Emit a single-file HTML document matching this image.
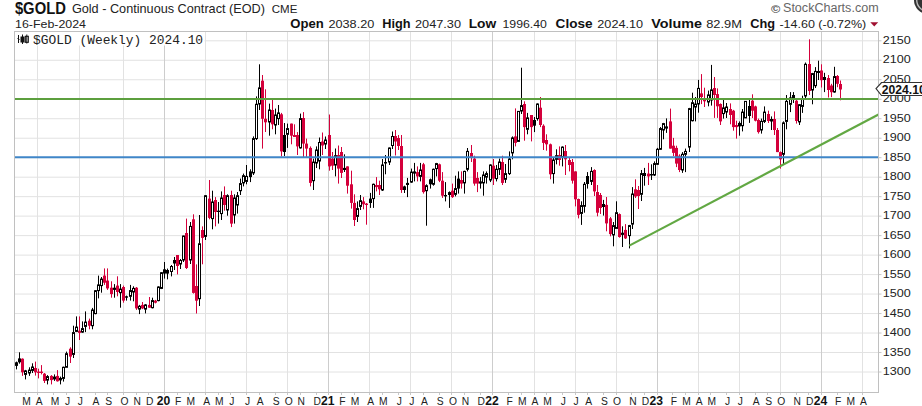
<!DOCTYPE html>
<html><head><meta charset="utf-8"><style>
html,body{margin:0;padding:0;background:#fff;width:922px;height:406px;overflow:hidden;position:relative}
svg{position:absolute;left:0;top:0}
text{font-family:"Liberation Sans",sans-serif;fill:#111}
.ax{font-size:11.6px;fill:#222}
.mo{font-size:11.7px;fill:#222;text-anchor:middle}
.yr{font-size:13.5px;font-weight:bold;text-anchor:middle}
.h1{font-size:16px;font-weight:bold}
.h2{font-size:12.9px;fill:#222}
.h3{font-size:10.3px;fill:#222}
.d1{font-size:11.7px;fill:#222}
.b{font-size:12.6px;font-weight:bold}
.n{font-size:10.8px;fill:#222}
.sc{font-size:12px;fill:#666}
.sc2{font-size:10.5px;fill:#555;font-weight:bold}
.mono{font-family:"Liberation Mono",monospace;font-size:12.6px;fill:#222}
</style></head><body>
<svg width="922" height="406" viewBox="0 0 922 406">
<g stroke="#e2e2e2" stroke-width="1"><line x1="14.5" y1="372.0" x2="878.5" y2="372.0"/><line x1="14.5" y1="352.52" x2="878.5" y2="352.52"/><line x1="14.5" y1="333.04" x2="878.5" y2="333.04"/><line x1="14.5" y1="313.56" x2="878.5" y2="313.56"/><line x1="14.5" y1="294.07" x2="878.5" y2="294.07"/><line x1="14.5" y1="274.59" x2="878.5" y2="274.59"/><line x1="14.5" y1="255.11" x2="878.5" y2="255.11"/><line x1="14.5" y1="235.62" x2="878.5" y2="235.62"/><line x1="14.5" y1="216.14" x2="878.5" y2="216.14"/><line x1="14.5" y1="196.66" x2="878.5" y2="196.66"/><line x1="14.5" y1="177.18" x2="878.5" y2="177.18"/><line x1="14.5" y1="157.69" x2="878.5" y2="157.69"/><line x1="14.5" y1="138.21" x2="878.5" y2="138.21"/><line x1="14.5" y1="118.73" x2="878.5" y2="118.73"/><line x1="14.5" y1="99.25" x2="878.5" y2="99.25"/><line x1="14.5" y1="79.76" x2="878.5" y2="79.76"/><line x1="14.5" y1="60.28" x2="878.5" y2="60.28"/><line x1="14.5" y1="40.8" x2="878.5" y2="40.8"/><line x1="37.5" y1="31.5" x2="37.5" y2="392.5"/><line x1="79.5" y1="31.5" x2="79.5" y2="392.5"/><line x1="123.5" y1="31.5" x2="123.5" y2="392.5"/><line x1="205.5" y1="31.5" x2="205.5" y2="392.5"/><line x1="246.5" y1="31.5" x2="246.5" y2="392.5"/><line x1="287.5" y1="31.5" x2="287.5" y2="392.5"/><line x1="369.5" y1="31.5" x2="369.5" y2="392.5"/><line x1="410.5" y1="31.5" x2="410.5" y2="392.5"/><line x1="451.5" y1="31.5" x2="451.5" y2="392.5"/><line x1="534.5" y1="31.5" x2="534.5" y2="392.5"/><line x1="575.5" y1="31.5" x2="575.5" y2="392.5"/><line x1="616.5" y1="31.5" x2="616.5" y2="392.5"/><line x1="698.5" y1="31.5" x2="698.5" y2="392.5"/><line x1="739.5" y1="31.5" x2="739.5" y2="392.5"/><line x1="780.5" y1="31.5" x2="780.5" y2="392.5"/><line x1="862.5" y1="31.5" x2="862.5" y2="392.5"/></g><g stroke="#cdcdcd" stroke-width="1"><line x1="164.5" y1="31.5" x2="164.5" y2="392.5"/><line x1="328.5" y1="31.5" x2="328.5" y2="392.5"/><line x1="492.5" y1="31.5" x2="492.5" y2="392.5"/><line x1="657.5" y1="31.5" x2="657.5" y2="392.5"/><line x1="821.5" y1="31.5" x2="821.5" y2="392.5"/></g><g stroke="#c8c8c8" stroke-width="1"><line x1="25.5" y1="392.5" x2="25.5" y2="395.0"/><line x1="37.5" y1="392.5" x2="37.5" y2="395.0"/><line x1="53.5" y1="392.5" x2="53.5" y2="395.0"/><line x1="66.5" y1="392.5" x2="66.5" y2="395.0"/><line x1="79.5" y1="392.5" x2="79.5" y2="395.0"/><line x1="95.5" y1="392.5" x2="95.5" y2="395.0"/><line x1="107.5" y1="392.5" x2="107.5" y2="395.0"/><line x1="123.5" y1="392.5" x2="123.5" y2="395.0"/><line x1="136.5" y1="392.5" x2="136.5" y2="395.0"/><line x1="148.5" y1="392.5" x2="148.5" y2="395.0"/><line x1="164.5" y1="392.5" x2="164.5" y2="395.0"/><line x1="177.5" y1="392.5" x2="177.5" y2="395.0"/><line x1="189.5" y1="392.5" x2="189.5" y2="395.0"/><line x1="205.5" y1="392.5" x2="205.5" y2="395.0"/><line x1="218.5" y1="392.5" x2="218.5" y2="395.0"/><line x1="230.5" y1="392.5" x2="230.5" y2="395.0"/><line x1="246.5" y1="392.5" x2="246.5" y2="395.0"/><line x1="259.5" y1="392.5" x2="259.5" y2="395.0"/><line x1="275.5" y1="392.5" x2="275.5" y2="395.0"/><line x1="287.5" y1="392.5" x2="287.5" y2="395.0"/><line x1="300.5" y1="392.5" x2="300.5" y2="395.0"/><line x1="316.5" y1="392.5" x2="316.5" y2="395.0"/><line x1="328.5" y1="392.5" x2="328.5" y2="395.0"/><line x1="341.5" y1="392.5" x2="341.5" y2="395.0"/><line x1="354.5" y1="392.5" x2="354.5" y2="395.0"/><line x1="369.5" y1="392.5" x2="369.5" y2="395.0"/><line x1="382.5" y1="392.5" x2="382.5" y2="395.0"/><line x1="398.5" y1="392.5" x2="398.5" y2="395.0"/><line x1="410.5" y1="392.5" x2="410.5" y2="395.0"/><line x1="423.5" y1="392.5" x2="423.5" y2="395.0"/><line x1="439.5" y1="392.5" x2="439.5" y2="395.0"/><line x1="451.5" y1="392.5" x2="451.5" y2="395.0"/><line x1="464.5" y1="392.5" x2="464.5" y2="395.0"/><line x1="480.5" y1="392.5" x2="480.5" y2="395.0"/><line x1="492.5" y1="392.5" x2="492.5" y2="395.0"/><line x1="508.5" y1="392.5" x2="508.5" y2="395.0"/><line x1="521.5" y1="392.5" x2="521.5" y2="395.0"/><line x1="534.5" y1="392.5" x2="534.5" y2="395.0"/><line x1="546.5" y1="392.5" x2="546.5" y2="395.0"/><line x1="562.5" y1="392.5" x2="562.5" y2="395.0"/><line x1="575.5" y1="392.5" x2="575.5" y2="395.0"/><line x1="587.5" y1="392.5" x2="587.5" y2="395.0"/><line x1="603.5" y1="392.5" x2="603.5" y2="395.0"/><line x1="616.5" y1="392.5" x2="616.5" y2="395.0"/><line x1="631.5" y1="392.5" x2="631.5" y2="395.0"/><line x1="644.5" y1="392.5" x2="644.5" y2="395.0"/><line x1="657.5" y1="392.5" x2="657.5" y2="395.0"/><line x1="672.5" y1="392.5" x2="672.5" y2="395.0"/><line x1="685.5" y1="392.5" x2="685.5" y2="395.0"/><line x1="698.5" y1="392.5" x2="698.5" y2="395.0"/><line x1="710.5" y1="392.5" x2="710.5" y2="395.0"/><line x1="726.5" y1="392.5" x2="726.5" y2="395.0"/><line x1="739.5" y1="392.5" x2="739.5" y2="395.0"/><line x1="755.5" y1="392.5" x2="755.5" y2="395.0"/><line x1="767.5" y1="392.5" x2="767.5" y2="395.0"/><line x1="780.5" y1="392.5" x2="780.5" y2="395.0"/><line x1="796.5" y1="392.5" x2="796.5" y2="395.0"/><line x1="808.5" y1="392.5" x2="808.5" y2="395.0"/><line x1="821.5" y1="392.5" x2="821.5" y2="395.0"/><line x1="837.5" y1="392.5" x2="837.5" y2="395.0"/><line x1="849.5" y1="392.5" x2="849.5" y2="395.0"/><line x1="862.5" y1="392.5" x2="862.5" y2="395.0"/></g><g stroke="#c8c8c8" stroke-width="1"><line x1="878.5" y1="372.0" x2="881.5" y2="372.0"/><line x1="878.5" y1="352.52" x2="881.5" y2="352.52"/><line x1="878.5" y1="333.04" x2="881.5" y2="333.04"/><line x1="878.5" y1="313.56" x2="881.5" y2="313.56"/><line x1="878.5" y1="294.07" x2="881.5" y2="294.07"/><line x1="878.5" y1="274.59" x2="881.5" y2="274.59"/><line x1="878.5" y1="255.11" x2="881.5" y2="255.11"/><line x1="878.5" y1="235.62" x2="881.5" y2="235.62"/><line x1="878.5" y1="216.14" x2="881.5" y2="216.14"/><line x1="878.5" y1="196.66" x2="881.5" y2="196.66"/><line x1="878.5" y1="177.18" x2="881.5" y2="177.18"/><line x1="878.5" y1="157.69" x2="881.5" y2="157.69"/><line x1="878.5" y1="138.21" x2="881.5" y2="138.21"/><line x1="878.5" y1="118.73" x2="881.5" y2="118.73"/><line x1="878.5" y1="99.25" x2="881.5" y2="99.25"/><line x1="878.5" y1="79.76" x2="881.5" y2="79.76"/><line x1="878.5" y1="60.28" x2="881.5" y2="60.28"/><line x1="878.5" y1="40.8" x2="881.5" y2="40.8"/></g><g stroke-width="1"><line x1="16.5" y1="361.6" x2="16.5" y2="369.4" stroke="#000"/><rect x="15.0" y="362.3" width="3" height="3.6" fill="#000"/><line x1="19.5" y1="352.3" x2="19.5" y2="363.7" stroke="#000"/><rect x="18.0" y="358.4" width="3" height="3.9" fill="#000"/><line x1="22.5" y1="358.4" x2="22.5" y2="375.9" stroke="#d4003b"/><rect x="21.0" y="358.7" width="3" height="13.6" fill="#d4003b"/><line x1="25.5" y1="369.9" x2="25.5" y2="379.4" stroke="#000"/><rect x="24.5" y="370.9" width="2" height="3.5" fill="#fff" stroke="#000" stroke-width="1"/><line x1="29.5" y1="367.3" x2="29.5" y2="375.9" stroke="#000"/><rect x="28.5" y="370.1" width="2" height="2.9" fill="#fff" stroke="#000" stroke-width="1"/><line x1="32.5" y1="363.3" x2="32.5" y2="373.0" stroke="#000"/><rect x="31.5" y="367.0" width="2" height="3.4" fill="#fff" stroke="#000" stroke-width="1"/><line x1="35.5" y1="361.6" x2="35.5" y2="375.6" stroke="#d4003b"/><rect x="34.0" y="368.0" width="3" height="4.3" fill="#d4003b"/><line x1="38.5" y1="368.7" x2="38.5" y2="378.4" stroke="#d4003b"/><rect x="37.0" y="371.6" width="3" height="1.4" fill="#d4003b"/><line x1="41.5" y1="365.1" x2="41.5" y2="374.4" stroke="#d4003b"/><rect x="40.0" y="371.6" width="3" height="1.4" fill="#d4003b"/><line x1="44.5" y1="373.0" x2="44.5" y2="383.0" stroke="#d4003b"/><rect x="43.0" y="373.7" width="3" height="7.2" fill="#d4003b"/><line x1="47.5" y1="375.1" x2="47.5" y2="384.4" stroke="#000"/><rect x="46.5" y="376.6" width="2" height="3.5" fill="#fff" stroke="#000" stroke-width="1"/><line x1="51.5" y1="375.1" x2="51.5" y2="384.4" stroke="#d4003b"/><rect x="50.0" y="375.9" width="3" height="4.2" fill="#d4003b"/><line x1="54.5" y1="374.4" x2="54.5" y2="380.9" stroke="#000"/><rect x="53.0" y="376.6" width="3" height="2.8" fill="#000"/><line x1="57.5" y1="370.1" x2="57.5" y2="381.6" stroke="#d4003b"/><rect x="56.0" y="375.9" width="3" height="5.4" fill="#d4003b"/><line x1="60.5" y1="376.6" x2="60.5" y2="384.4" stroke="#000"/><rect x="59.5" y="378.4" width="2" height="1.5" fill="#fff" stroke="#000" stroke-width="1"/><line x1="63.5" y1="366.6" x2="63.5" y2="381.6" stroke="#000"/><rect x="62.5" y="367.3" width="2" height="11.1" fill="#fff" stroke="#000" stroke-width="1"/><line x1="66.5" y1="351.6" x2="66.5" y2="367.3" stroke="#000"/><rect x="65.5" y="353.7" width="2" height="13.6" fill="#fff" stroke="#000" stroke-width="1"/><line x1="70.5" y1="347.3" x2="70.5" y2="363.0" stroke="#d4003b"/><rect x="69.0" y="348.7" width="3" height="7.9" fill="#d4003b"/><line x1="73.5" y1="325.7" x2="73.5" y2="358.0" stroke="#000"/><rect x="72.5" y="332.6" width="2" height="21.8" fill="#fff" stroke="#000" stroke-width="1"/><line x1="76.5" y1="316.4" x2="76.5" y2="332.1" stroke="#000"/><rect x="75.5" y="327.1" width="2" height="4.3" fill="#fff" stroke="#000" stroke-width="1"/><line x1="79.5" y1="316.4" x2="79.5" y2="340.0" stroke="#d4003b"/><rect x="78.0" y="330.7" width="3" height="2.2" fill="#d4003b"/><line x1="82.5" y1="321.4" x2="82.5" y2="332.9" stroke="#000"/><rect x="81.5" y="328.6" width="2" height="3.5" fill="#fff" stroke="#000" stroke-width="1"/><line x1="85.5" y1="311.4" x2="85.5" y2="332.1" stroke="#000"/><rect x="84.5" y="322.1" width="2" height="4.3" fill="#fff" stroke="#000" stroke-width="1"/><line x1="89.5" y1="318.6" x2="89.5" y2="329.3" stroke="#d4003b"/><rect x="88.0" y="320.7" width="3" height="5.0" fill="#d4003b"/><line x1="92.5" y1="307.9" x2="92.5" y2="329.3" stroke="#000"/><rect x="91.5" y="310.0" width="2" height="15.7" fill="#fff" stroke="#000" stroke-width="1"/><line x1="95.5" y1="290.0" x2="95.5" y2="314.3" stroke="#000"/><rect x="94.5" y="290.7" width="2" height="22.9" fill="#fff" stroke="#000" stroke-width="1"/><line x1="98.5" y1="275.6" x2="98.5" y2="298.4" stroke="#000"/><rect x="97.5" y="284.9" width="2" height="5.7" fill="#fff" stroke="#000" stroke-width="1"/><line x1="101.5" y1="277.0" x2="101.5" y2="292.7" stroke="#000"/><rect x="100.5" y="279.1" width="2" height="6.5" fill="#fff" stroke="#000" stroke-width="1"/><line x1="104.5" y1="268.4" x2="104.5" y2="284.9" stroke="#d4003b"/><rect x="103.0" y="275.6" width="3" height="7.1" fill="#d4003b"/><line x1="107.5" y1="268.4" x2="107.5" y2="289.9" stroke="#d4003b"/><rect x="106.0" y="280.6" width="3" height="7.8" fill="#d4003b"/><line x1="111.5" y1="281.3" x2="111.5" y2="297.7" stroke="#d4003b"/><rect x="110.0" y="287.7" width="3" height="6.4" fill="#d4003b"/><line x1="114.5" y1="284.1" x2="114.5" y2="297.7" stroke="#000"/><rect x="113.0" y="287.7" width="3" height="2.2" fill="#000"/><line x1="117.5" y1="276.3" x2="117.5" y2="296.3" stroke="#d4003b"/><rect x="116.0" y="285.6" width="3" height="6.4" fill="#d4003b"/><line x1="120.5" y1="284.1" x2="120.5" y2="307.7" stroke="#000"/><rect x="119.5" y="289.1" width="2" height="3.6" fill="#fff" stroke="#000" stroke-width="1"/><line x1="123.5" y1="285.6" x2="123.5" y2="302.7" stroke="#d4003b"/><rect x="122.0" y="287.0" width="3" height="13.6" fill="#d4003b"/><line x1="126.5" y1="295.6" x2="126.5" y2="300.6" stroke="#000"/><rect x="125.0" y="296.3" width="3" height="1.4" fill="#000"/><line x1="130.5" y1="284.9" x2="130.5" y2="300.6" stroke="#000"/><rect x="129.5" y="290.6" width="2" height="5.7" fill="#fff" stroke="#000" stroke-width="1"/><line x1="133.5" y1="286.3" x2="133.5" y2="301.3" stroke="#000"/><rect x="132.5" y="288.4" width="2" height="3.6" fill="#fff" stroke="#000" stroke-width="1"/><line x1="136.5" y1="287.0" x2="136.5" y2="309.9" stroke="#d4003b"/><rect x="135.0" y="287.7" width="3" height="20.7" fill="#d4003b"/><line x1="139.5" y1="304.9" x2="139.5" y2="314.1" stroke="#000"/><rect x="138.5" y="306.3" width="2" height="2.8" fill="#fff" stroke="#000" stroke-width="1"/><line x1="142.5" y1="302.0" x2="142.5" y2="309.1" stroke="#d4003b"/><rect x="141.0" y="304.9" width="3" height="3.5" fill="#d4003b"/><line x1="145.5" y1="304.1" x2="145.5" y2="313.4" stroke="#000"/><rect x="144.5" y="304.9" width="2" height="4.2" fill="#fff" stroke="#000" stroke-width="1"/><line x1="149.5" y1="297.0" x2="149.5" y2="307.7" stroke="#d4003b"/><rect x="148.0" y="304.9" width="3" height="2.8" fill="#d4003b"/><line x1="152.5" y1="297.7" x2="152.5" y2="308.4" stroke="#000"/><rect x="151.5" y="300.6" width="2" height="7.1" fill="#fff" stroke="#000" stroke-width="1"/><line x1="155.5" y1="299.9" x2="155.5" y2="303.4" stroke="#d4003b"/><rect x="154.0" y="300.6" width="3" height="2.1" fill="#d4003b"/><line x1="158.5" y1="286.3" x2="158.5" y2="301.3" stroke="#000"/><rect x="157.5" y="287.0" width="2" height="13.6" fill="#fff" stroke="#000" stroke-width="1"/><line x1="161.5" y1="272.0" x2="161.5" y2="289.1" stroke="#000"/><rect x="160.5" y="272.7" width="2" height="15.7" fill="#fff" stroke="#000" stroke-width="1"/><line x1="164.5" y1="262.0" x2="164.5" y2="278.6" stroke="#000"/><rect x="163.0" y="269.3" width="3" height="4.3" fill="#000"/><line x1="167.5" y1="268.6" x2="167.5" y2="279.3" stroke="#000"/><rect x="166.0" y="270.0" width="3" height="3.6" fill="#000"/><line x1="171.5" y1="265.0" x2="171.5" y2="276.4" stroke="#000"/><rect x="170.5" y="266.5" width="2" height="5.0" fill="#fff" stroke="#000" stroke-width="1"/><line x1="174.5" y1="257.0" x2="174.5" y2="270.0" stroke="#000"/><rect x="173.0" y="260.0" width="3" height="3.5" fill="#000"/><line x1="177.5" y1="255.0" x2="177.5" y2="274.4" stroke="#d4003b"/><rect x="176.0" y="255.0" width="3" height="11.0" fill="#d4003b"/><line x1="180.5" y1="259.0" x2="180.5" y2="269.0" stroke="#000"/><rect x="179.5" y="260.5" width="2" height="3.5" fill="#fff" stroke="#000" stroke-width="1"/><line x1="183.5" y1="235.7" x2="183.5" y2="262.0" stroke="#000"/><rect x="182.5" y="236.0" width="2" height="24.0" fill="#fff" stroke="#000" stroke-width="1"/><line x1="186.5" y1="218.6" x2="186.5" y2="269.0" stroke="#d4003b"/><rect x="185.0" y="233.0" width="3" height="35.0" fill="#d4003b"/><line x1="190.5" y1="222.0" x2="190.5" y2="264.0" stroke="#000"/><rect x="189.5" y="226.4" width="2" height="33.6" fill="#fff" stroke="#000" stroke-width="1"/><line x1="193.5" y1="214.3" x2="193.5" y2="293.6" stroke="#d4003b"/><rect x="192.0" y="219.3" width="3" height="73.6" fill="#d4003b"/><line x1="196.5" y1="264.4" x2="196.5" y2="313.5" stroke="#d4003b"/><rect x="195.0" y="286.0" width="3" height="14.7" fill="#d4003b"/><line x1="199.5" y1="215.0" x2="199.5" y2="306.0" stroke="#000"/><rect x="198.5" y="243.8" width="2" height="54.9" fill="#fff" stroke="#000" stroke-width="1"/><line x1="202.5" y1="226.4" x2="202.5" y2="264.3" stroke="#d4003b"/><rect x="201.0" y="230.0" width="3" height="7.9" fill="#d4003b"/><line x1="205.5" y1="195.0" x2="205.5" y2="240.0" stroke="#000"/><rect x="204.5" y="195.7" width="2" height="40.7" fill="#fff" stroke="#000" stroke-width="1"/><line x1="209.5" y1="180.0" x2="209.5" y2="219.3" stroke="#d4003b"/><rect x="208.0" y="198.6" width="3" height="19.3" fill="#d4003b"/><line x1="212.5" y1="190.7" x2="212.5" y2="229.3" stroke="#000"/><rect x="211.5" y="202.0" width="2" height="16.6" fill="#fff" stroke="#000" stroke-width="1"/><line x1="215.5" y1="197.1" x2="215.5" y2="226.4" stroke="#d4003b"/><rect x="214.0" y="200.0" width="3" height="12.0" fill="#d4003b"/><line x1="218.5" y1="202.0" x2="218.5" y2="223.6" stroke="#000"/><rect x="217.0" y="210.7" width="3" height="1.3" fill="#000"/><line x1="221.5" y1="191.4" x2="221.5" y2="220.0" stroke="#000"/><rect x="220.5" y="198.0" width="2" height="15.6" fill="#fff" stroke="#000" stroke-width="1"/><line x1="224.5" y1="186.4" x2="224.5" y2="210.7" stroke="#d4003b"/><rect x="223.0" y="195.0" width="3" height="10.0" fill="#d4003b"/><line x1="227.5" y1="194.3" x2="227.5" y2="215.7" stroke="#000"/><rect x="226.5" y="195.7" width="2" height="14.3" fill="#fff" stroke="#000" stroke-width="1"/><line x1="231.5" y1="190.7" x2="231.5" y2="227.1" stroke="#d4003b"/><rect x="230.0" y="195.0" width="3" height="28.6" fill="#d4003b"/><line x1="234.5" y1="194.3" x2="234.5" y2="223.6" stroke="#000"/><rect x="233.5" y="198.0" width="2" height="17.0" fill="#fff" stroke="#000" stroke-width="1"/><line x1="237.5" y1="192.0" x2="237.5" y2="213.6" stroke="#000"/><rect x="236.5" y="195.7" width="2" height="9.3" fill="#fff" stroke="#000" stroke-width="1"/><line x1="240.5" y1="178.6" x2="240.5" y2="195.0" stroke="#000"/><rect x="239.5" y="183.6" width="2" height="7.1" fill="#fff" stroke="#000" stroke-width="1"/><line x1="243.5" y1="173.6" x2="243.5" y2="186.4" stroke="#000"/><rect x="242.5" y="175.7" width="2" height="7.2" fill="#fff" stroke="#000" stroke-width="1"/><line x1="246.5" y1="165.0" x2="246.5" y2="184.3" stroke="#000"/><rect x="245.5" y="176.4" width="2" height="5.0" fill="#fff" stroke="#000" stroke-width="1"/><line x1="250.5" y1="169.3" x2="250.5" y2="182.1" stroke="#000"/><rect x="249.0" y="171.4" width="3" height="5.7" fill="#000"/><line x1="253.5" y1="136.4" x2="253.5" y2="175.0" stroke="#000"/><rect x="252.5" y="138.6" width="2" height="34.3" fill="#fff" stroke="#000" stroke-width="1"/><line x1="256.5" y1="96.4" x2="256.5" y2="140.0" stroke="#000"/><rect x="255.5" y="104.3" width="2" height="34.3" fill="#fff" stroke="#000" stroke-width="1"/><line x1="259.5" y1="64.3" x2="259.5" y2="110.0" stroke="#000"/><rect x="258.5" y="87.9" width="2" height="16.1" fill="#fff" stroke="#000" stroke-width="1"/><line x1="262.5" y1="75.0" x2="262.5" y2="148.6" stroke="#d4003b"/><rect x="261.0" y="80.7" width="3" height="38.1" fill="#d4003b"/><line x1="265.5" y1="89.3" x2="265.5" y2="132.0" stroke="#d4003b"/><rect x="264.0" y="118.8" width="3" height="3.5" fill="#d4003b"/><line x1="269.5" y1="103.6" x2="269.5" y2="135.7" stroke="#000"/><rect x="268.5" y="110.0" width="2" height="12.0" fill="#fff" stroke="#000" stroke-width="1"/><line x1="272.5" y1="100.0" x2="272.5" y2="129.3" stroke="#d4003b"/><rect x="271.0" y="110.0" width="3" height="14.3" fill="#d4003b"/><line x1="275.5" y1="108.6" x2="275.5" y2="134.3" stroke="#000"/><rect x="274.5" y="115.0" width="2" height="10.0" fill="#fff" stroke="#000" stroke-width="1"/><line x1="278.5" y1="105.0" x2="278.5" y2="125.0" stroke="#000"/><rect x="277.5" y="112.9" width="2" height="5.7" fill="#fff" stroke="#000" stroke-width="1"/><line x1="281.5" y1="112.9" x2="281.5" y2="156.4" stroke="#d4003b"/><rect x="280.0" y="114.3" width="3" height="37.1" fill="#d4003b"/><line x1="284.5" y1="123.0" x2="284.5" y2="156.0" stroke="#000"/><rect x="283.0" y="135.0" width="3" height="17.0" fill="#000"/><line x1="287.5" y1="123.6" x2="287.5" y2="147.9" stroke="#000"/><rect x="286.5" y="128.6" width="2" height="5.7" fill="#fff" stroke="#000" stroke-width="1"/><line x1="291.5" y1="123.6" x2="291.5" y2="144.3" stroke="#d4003b"/><rect x="290.0" y="123.6" width="3" height="12.1" fill="#d4003b"/><line x1="294.5" y1="124.3" x2="294.5" y2="137.0" stroke="#d4003b"/><rect x="293.0" y="135.0" width="3" height="2.0" fill="#d4003b"/><line x1="297.5" y1="132.1" x2="297.5" y2="155.0" stroke="#d4003b"/><rect x="296.0" y="135.0" width="3" height="11.4" fill="#d4003b"/><line x1="300.5" y1="113.6" x2="300.5" y2="148.6" stroke="#000"/><rect x="299.5" y="118.6" width="2" height="29.3" fill="#fff" stroke="#000" stroke-width="1"/><line x1="303.5" y1="112.1" x2="303.5" y2="157.9" stroke="#d4003b"/><rect x="302.0" y="118.0" width="3" height="25.6" fill="#d4003b"/><line x1="306.5" y1="138.6" x2="306.5" y2="157.9" stroke="#d4003b"/><rect x="305.0" y="143.6" width="3" height="5.0" fill="#d4003b"/><line x1="310.5" y1="146.4" x2="310.5" y2="186.4" stroke="#d4003b"/><rect x="309.0" y="147.9" width="3" height="35.0" fill="#d4003b"/><line x1="313.5" y1="158.6" x2="313.5" y2="190.0" stroke="#000"/><rect x="312.5" y="162.1" width="2" height="18.6" fill="#fff" stroke="#000" stroke-width="1"/><line x1="316.5" y1="146.4" x2="316.5" y2="168.0" stroke="#000"/><rect x="315.5" y="150.0" width="2" height="13.0" fill="#fff" stroke="#000" stroke-width="1"/><line x1="319.5" y1="137.5" x2="319.5" y2="169.3" stroke="#000"/><rect x="318.5" y="142.5" width="2" height="18.5" fill="#fff" stroke="#000" stroke-width="1"/><line x1="322.5" y1="132.5" x2="322.5" y2="155.0" stroke="#d4003b"/><rect x="321.0" y="141.5" width="3" height="4.0" fill="#d4003b"/><line x1="325.5" y1="136.5" x2="325.5" y2="149.0" stroke="#000"/><rect x="324.5" y="140.0" width="2" height="4.0" fill="#fff" stroke="#000" stroke-width="1"/><line x1="329.5" y1="114.5" x2="329.5" y2="170.7" stroke="#d4003b"/><rect x="328.0" y="135.0" width="3" height="31.4" fill="#d4003b"/><line x1="332.5" y1="152.0" x2="332.5" y2="170.0" stroke="#d4003b"/><rect x="331.0" y="158.6" width="3" height="7.1" fill="#d4003b"/><line x1="335.5" y1="148.5" x2="335.5" y2="176.4" stroke="#000"/><rect x="334.5" y="155.7" width="2" height="9.3" fill="#fff" stroke="#000" stroke-width="1"/><line x1="338.5" y1="145.5" x2="338.5" y2="183.6" stroke="#d4003b"/><rect x="337.0" y="155.0" width="3" height="13.6" fill="#d4003b"/><line x1="341.5" y1="147.0" x2="341.5" y2="178.0" stroke="#d4003b"/><rect x="340.0" y="152.0" width="3" height="20.9" fill="#d4003b"/><line x1="344.5" y1="154.3" x2="344.5" y2="172.0" stroke="#000"/><rect x="343.0" y="167.9" width="3" height="2.1" fill="#000"/><line x1="347.5" y1="166.4" x2="347.5" y2="193.6" stroke="#d4003b"/><rect x="346.0" y="166.4" width="3" height="19.3" fill="#d4003b"/><line x1="351.5" y1="170.7" x2="351.5" y2="208.6" stroke="#d4003b"/><rect x="350.0" y="184.3" width="3" height="18.6" fill="#d4003b"/><line x1="354.5" y1="194.3" x2="354.5" y2="226.0" stroke="#d4003b"/><rect x="353.0" y="202.9" width="3" height="17.1" fill="#d4003b"/><line x1="357.5" y1="201.4" x2="357.5" y2="222.0" stroke="#000"/><rect x="356.5" y="208.6" width="2" height="7.8" fill="#fff" stroke="#000" stroke-width="1"/><line x1="360.5" y1="195.0" x2="360.5" y2="210.0" stroke="#000"/><rect x="359.5" y="200.7" width="2" height="5.7" fill="#fff" stroke="#000" stroke-width="1"/><line x1="363.5" y1="197.1" x2="363.5" y2="209.3" stroke="#d4003b"/><rect x="362.0" y="201.4" width="3" height="2.9" fill="#d4003b"/><line x1="366.5" y1="203.0" x2="366.5" y2="224.7" stroke="#d4003b"/><rect x="365.0" y="203.6" width="3" height="1.4" fill="#d4003b"/><line x1="370.5" y1="192.9" x2="370.5" y2="207.9" stroke="#000"/><rect x="369.0" y="198.6" width="3" height="4.4" fill="#000"/><line x1="373.5" y1="183.6" x2="373.5" y2="207.9" stroke="#000"/><rect x="372.5" y="184.3" width="2" height="14.3" fill="#fff" stroke="#000" stroke-width="1"/><line x1="376.5" y1="177.1" x2="376.5" y2="191.4" stroke="#d4003b"/><rect x="375.0" y="185.0" width="3" height="2.1" fill="#d4003b"/><line x1="379.5" y1="180.7" x2="379.5" y2="195.0" stroke="#d4003b"/><rect x="378.0" y="185.0" width="3" height="4.3" fill="#d4003b"/><line x1="382.5" y1="159.0" x2="382.5" y2="191.0" stroke="#000"/><rect x="381.5" y="165.0" width="2" height="25.0" fill="#fff" stroke="#000" stroke-width="1"/><line x1="385.5" y1="155.0" x2="385.5" y2="174.3" stroke="#000"/><rect x="384.0" y="162.0" width="3" height="1.5" fill="#000"/><line x1="389.5" y1="147.5" x2="389.5" y2="165.0" stroke="#000"/><rect x="388.5" y="148.0" width="2" height="14.0" fill="#fff" stroke="#000" stroke-width="1"/><line x1="392.5" y1="131.5" x2="392.5" y2="149.0" stroke="#000"/><rect x="391.5" y="136.5" width="2" height="9.0" fill="#fff" stroke="#000" stroke-width="1"/><line x1="395.5" y1="130.0" x2="395.5" y2="155.5" stroke="#d4003b"/><rect x="394.0" y="136.0" width="3" height="5.5" fill="#d4003b"/><line x1="398.5" y1="135.0" x2="398.5" y2="150.0" stroke="#d4003b"/><rect x="397.0" y="138.0" width="3" height="8.0" fill="#d4003b"/><line x1="401.5" y1="135.0" x2="401.5" y2="192.9" stroke="#d4003b"/><rect x="400.0" y="146.0" width="3" height="44.0" fill="#d4003b"/><line x1="404.5" y1="185.7" x2="404.5" y2="193.0" stroke="#000"/><rect x="403.0" y="186.4" width="3" height="3.6" fill="#000"/><line x1="407.5" y1="177.9" x2="407.5" y2="197.1" stroke="#000"/><rect x="406.0" y="182.9" width="3" height="2.1" fill="#000"/><line x1="411.5" y1="168.6" x2="411.5" y2="182.9" stroke="#000"/><rect x="410.5" y="172.1" width="2" height="10.0" fill="#fff" stroke="#000" stroke-width="1"/><line x1="414.5" y1="162.9" x2="414.5" y2="181.4" stroke="#000"/><rect x="413.0" y="171.4" width="3" height="2.2" fill="#000"/><line x1="417.5" y1="166.4" x2="417.5" y2="181.4" stroke="#d4003b"/><rect x="416.0" y="172.1" width="3" height="4.3" fill="#d4003b"/><line x1="420.5" y1="162.9" x2="420.5" y2="181.4" stroke="#000"/><rect x="419.5" y="170.0" width="2" height="6.4" fill="#fff" stroke="#000" stroke-width="1"/><line x1="423.5" y1="162.9" x2="423.5" y2="193.6" stroke="#d4003b"/><rect x="422.0" y="164.3" width="3" height="27.8" fill="#d4003b"/><line x1="426.5" y1="184.3" x2="426.5" y2="225.7" stroke="#000"/><rect x="425.5" y="185.7" width="2" height="5.0" fill="#fff" stroke="#000" stroke-width="1"/><line x1="430.5" y1="178.6" x2="430.5" y2="188.6" stroke="#000"/><rect x="429.0" y="179.3" width="3" height="5.0" fill="#000"/><line x1="433.5" y1="168.6" x2="433.5" y2="185.7" stroke="#000"/><rect x="432.5" y="169.3" width="2" height="15.0" fill="#fff" stroke="#000" stroke-width="1"/><line x1="436.5" y1="162.9" x2="436.5" y2="176.4" stroke="#000"/><rect x="435.5" y="163.6" width="2" height="5.0" fill="#fff" stroke="#000" stroke-width="1"/><line x1="439.5" y1="163.6" x2="439.5" y2="182.1" stroke="#d4003b"/><rect x="438.0" y="164.3" width="3" height="16.4" fill="#d4003b"/><line x1="442.5" y1="172.1" x2="442.5" y2="197.9" stroke="#d4003b"/><rect x="441.0" y="180.7" width="3" height="15.0" fill="#d4003b"/><line x1="445.5" y1="182.1" x2="445.5" y2="201.4" stroke="#000"/><rect x="444.0" y="195.0" width="3" height="1.4" fill="#000"/><line x1="449.5" y1="191.4" x2="449.5" y2="207.9" stroke="#000"/><rect x="448.0" y="192.1" width="3" height="2.9" fill="#000"/><line x1="452.5" y1="183.6" x2="452.5" y2="197.9" stroke="#d4003b"/><rect x="451.0" y="190.7" width="3" height="6.4" fill="#d4003b"/><line x1="455.5" y1="175.7" x2="455.5" y2="196.4" stroke="#000"/><rect x="454.5" y="188.6" width="2" height="5.7" fill="#fff" stroke="#000" stroke-width="1"/><line x1="458.5" y1="171.4" x2="458.5" y2="193.6" stroke="#000"/><rect x="457.0" y="178.6" width="3" height="10.0" fill="#000"/><line x1="461.5" y1="171.4" x2="461.5" y2="188.6" stroke="#d4003b"/><rect x="460.0" y="180.0" width="3" height="3.6" fill="#d4003b"/><line x1="464.5" y1="170.7" x2="464.5" y2="193.6" stroke="#000"/><rect x="463.5" y="171.4" width="2" height="11.5" fill="#fff" stroke="#000" stroke-width="1"/><line x1="467.5" y1="148.0" x2="467.5" y2="171.4" stroke="#000"/><rect x="466.5" y="151.4" width="2" height="17.9" fill="#fff" stroke="#000" stroke-width="1"/><line x1="471.5" y1="145.0" x2="471.5" y2="162.0" stroke="#d4003b"/><rect x="470.0" y="153.0" width="3" height="4.0" fill="#d4003b"/><line x1="474.5" y1="155.7" x2="474.5" y2="185.7" stroke="#d4003b"/><rect x="473.0" y="158.6" width="3" height="25.0" fill="#d4003b"/><line x1="477.5" y1="172.1" x2="477.5" y2="192.1" stroke="#d4003b"/><rect x="476.0" y="177.9" width="3" height="5.7" fill="#d4003b"/><line x1="480.5" y1="177.1" x2="480.5" y2="188.6" stroke="#000"/><rect x="479.0" y="181.4" width="3" height="2.2" fill="#000"/><line x1="483.5" y1="171.4" x2="483.5" y2="195.7" stroke="#000"/><rect x="482.5" y="175.0" width="2" height="7.9" fill="#fff" stroke="#000" stroke-width="1"/><line x1="486.5" y1="171.4" x2="486.5" y2="183.6" stroke="#000"/><rect x="485.5" y="173.6" width="2" height="3.5" fill="#fff" stroke="#000" stroke-width="1"/><line x1="490.5" y1="164.3" x2="490.5" y2="182.1" stroke="#000"/><rect x="489.5" y="165.0" width="2" height="15.0" fill="#fff" stroke="#000" stroke-width="1"/><line x1="493.5" y1="159.0" x2="493.5" y2="185.0" stroke="#d4003b"/><rect x="492.0" y="165.7" width="3" height="12.9" fill="#d4003b"/><line x1="496.5" y1="165.0" x2="496.5" y2="181.4" stroke="#000"/><rect x="495.5" y="169.3" width="2" height="9.3" fill="#fff" stroke="#000" stroke-width="1"/><line x1="499.5" y1="158.6" x2="499.5" y2="175.0" stroke="#000"/><rect x="498.5" y="162.0" width="2" height="7.3" fill="#fff" stroke="#000" stroke-width="1"/><line x1="502.5" y1="155.7" x2="502.5" y2="185.0" stroke="#d4003b"/><rect x="501.0" y="162.0" width="3" height="20.9" fill="#d4003b"/><line x1="505.5" y1="164.0" x2="505.5" y2="182.9" stroke="#000"/><rect x="504.5" y="173.6" width="2" height="5.7" fill="#fff" stroke="#000" stroke-width="1"/><line x1="509.5" y1="151.4" x2="509.5" y2="175.0" stroke="#000"/><rect x="508.5" y="159.0" width="2" height="14.6" fill="#fff" stroke="#000" stroke-width="1"/><line x1="512.5" y1="136.4" x2="512.5" y2="159.3" stroke="#000"/><rect x="511.5" y="137.9" width="2" height="15.0" fill="#fff" stroke="#000" stroke-width="1"/><line x1="515.5" y1="108.4" x2="515.5" y2="146.4" stroke="#d4003b"/><rect x="514.0" y="136.4" width="3" height="6.5" fill="#d4003b"/><line x1="518.5" y1="111.3" x2="518.5" y2="141.4" stroke="#000"/><rect x="517.5" y="111.4" width="2" height="30.0" fill="#fff" stroke="#000" stroke-width="1"/><line x1="521.5" y1="67.7" x2="521.5" y2="114.0" stroke="#000"/><rect x="520.5" y="105.6" width="2" height="5.4" fill="#fff" stroke="#000" stroke-width="1"/><line x1="524.5" y1="101.3" x2="524.5" y2="140.7" stroke="#d4003b"/><rect x="523.0" y="104.0" width="3" height="23.1" fill="#d4003b"/><line x1="527.5" y1="112.9" x2="527.5" y2="134.3" stroke="#000"/><rect x="526.5" y="117.9" width="2" height="11.4" fill="#fff" stroke="#000" stroke-width="1"/><line x1="531.5" y1="115.0" x2="531.5" y2="141.4" stroke="#d4003b"/><rect x="530.0" y="115.0" width="3" height="12.1" fill="#d4003b"/><line x1="534.5" y1="117.0" x2="534.5" y2="132.1" stroke="#000"/><rect x="533.0" y="120.0" width="3" height="5.7" fill="#000"/><line x1="537.5" y1="103.4" x2="537.5" y2="120.7" stroke="#000"/><rect x="536.5" y="104.0" width="2" height="14.6" fill="#fff" stroke="#000" stroke-width="1"/><line x1="540.5" y1="97.0" x2="540.5" y2="127.1" stroke="#d4003b"/><rect x="539.0" y="107.7" width="3" height="17.3" fill="#d4003b"/><line x1="543.5" y1="124.3" x2="543.5" y2="150.0" stroke="#d4003b"/><rect x="542.0" y="125.7" width="3" height="17.2" fill="#d4003b"/><line x1="546.5" y1="134.3" x2="546.5" y2="150.7" stroke="#d4003b"/><rect x="545.0" y="140.0" width="3" height="4.3" fill="#d4003b"/><line x1="550.5" y1="143.6" x2="550.5" y2="179.3" stroke="#d4003b"/><rect x="549.0" y="144.3" width="3" height="30.0" fill="#d4003b"/><line x1="553.5" y1="158.0" x2="553.5" y2="183.6" stroke="#000"/><rect x="552.5" y="160.0" width="2" height="13.6" fill="#fff" stroke="#000" stroke-width="1"/><line x1="556.5" y1="149.3" x2="556.5" y2="164.3" stroke="#000"/><rect x="555.5" y="155.7" width="2" height="3.6" fill="#fff" stroke="#000" stroke-width="1"/><line x1="559.5" y1="146.4" x2="559.5" y2="165.7" stroke="#d4003b"/><rect x="558.0" y="155.0" width="3" height="5.0" fill="#d4003b"/><line x1="562.5" y1="146.4" x2="562.5" y2="166.4" stroke="#000"/><rect x="561.5" y="147.1" width="2" height="10.0" fill="#fff" stroke="#000" stroke-width="1"/><line x1="565.5" y1="145.0" x2="565.5" y2="175.0" stroke="#d4003b"/><rect x="564.0" y="151.0" width="3" height="8.3" fill="#d4003b"/><line x1="569.5" y1="157.1" x2="569.5" y2="171.4" stroke="#d4003b"/><rect x="568.0" y="160.0" width="3" height="5.0" fill="#d4003b"/><line x1="572.5" y1="159.0" x2="572.5" y2="183.6" stroke="#d4003b"/><rect x="571.0" y="162.0" width="3" height="18.7" fill="#d4003b"/><line x1="575.5" y1="171.4" x2="575.5" y2="206.4" stroke="#d4003b"/><rect x="574.0" y="171.4" width="3" height="27.9" fill="#d4003b"/><line x1="578.5" y1="198.6" x2="578.5" y2="218.4" stroke="#d4003b"/><rect x="577.0" y="199.0" width="3" height="15.9" fill="#d4003b"/><line x1="581.5" y1="201.3" x2="581.5" y2="224.9" stroke="#000"/><rect x="580.5" y="205.6" width="2" height="7.8" fill="#fff" stroke="#000" stroke-width="1"/><line x1="584.5" y1="182.0" x2="584.5" y2="212.7" stroke="#000"/><rect x="583.5" y="184.3" width="2" height="22.0" fill="#fff" stroke="#000" stroke-width="1"/><line x1="587.5" y1="172.1" x2="587.5" y2="188.6" stroke="#000"/><rect x="586.0" y="176.0" width="3" height="8.0" fill="#000"/><line x1="591.5" y1="167.1" x2="591.5" y2="185.0" stroke="#000"/><rect x="590.5" y="171.4" width="2" height="10.0" fill="#fff" stroke="#000" stroke-width="1"/><line x1="594.5" y1="169.3" x2="594.5" y2="196.0" stroke="#d4003b"/><rect x="593.0" y="170.0" width="3" height="21.4" fill="#d4003b"/><line x1="597.5" y1="185.0" x2="597.5" y2="216.3" stroke="#d4003b"/><rect x="596.0" y="192.0" width="3" height="20.7" fill="#d4003b"/><line x1="600.5" y1="193.0" x2="600.5" y2="214.0" stroke="#d4003b"/><rect x="599.0" y="195.0" width="3" height="13.0" fill="#d4003b"/><line x1="603.5" y1="199.9" x2="603.5" y2="215.6" stroke="#000"/><rect x="602.0" y="204.0" width="3" height="3.0" fill="#000"/><line x1="606.5" y1="197.0" x2="606.5" y2="231.3" stroke="#d4003b"/><rect x="605.0" y="204.9" width="3" height="18.5" fill="#d4003b"/><line x1="610.5" y1="217.0" x2="610.5" y2="236.3" stroke="#d4003b"/><rect x="609.0" y="218.4" width="3" height="15.7" fill="#d4003b"/><line x1="613.5" y1="222.0" x2="613.5" y2="246.3" stroke="#000"/><rect x="612.5" y="225.6" width="2" height="9.3" fill="#fff" stroke="#000" stroke-width="1"/><line x1="616.5" y1="201.3" x2="616.5" y2="228.4" stroke="#000"/><rect x="615.5" y="212.7" width="2" height="15.7" fill="#fff" stroke="#000" stroke-width="1"/><line x1="619.5" y1="213.4" x2="619.5" y2="237.7" stroke="#d4003b"/><rect x="618.0" y="214.1" width="3" height="22.9" fill="#d4003b"/><line x1="622.5" y1="226.3" x2="622.5" y2="247.0" stroke="#000"/><rect x="621.0" y="232.7" width="3" height="2.2" fill="#000"/><line x1="625.5" y1="224.1" x2="625.5" y2="239.0" stroke="#d4003b"/><rect x="624.0" y="229.9" width="3" height="8.5" fill="#d4003b"/><line x1="629.5" y1="224.9" x2="629.5" y2="248.4" stroke="#000"/><rect x="628.5" y="225.6" width="2" height="10.0" fill="#fff" stroke="#000" stroke-width="1"/><line x1="632.5" y1="187.1" x2="632.5" y2="229.0" stroke="#000"/><rect x="631.5" y="194.0" width="2" height="30.1" fill="#fff" stroke="#000" stroke-width="1"/><line x1="635.5" y1="179.3" x2="635.5" y2="198.0" stroke="#d4003b"/><rect x="634.0" y="189.3" width="3" height="7.1" fill="#d4003b"/><line x1="638.5" y1="186.0" x2="638.5" y2="209.0" stroke="#d4003b"/><rect x="637.0" y="190.0" width="3" height="6.0" fill="#d4003b"/><line x1="641.5" y1="170.0" x2="641.5" y2="201.0" stroke="#000"/><rect x="640.5" y="173.6" width="2" height="20.7" fill="#fff" stroke="#000" stroke-width="1"/><line x1="644.5" y1="167.9" x2="644.5" y2="185.7" stroke="#000"/><rect x="643.0" y="173.0" width="3" height="3.0" fill="#000"/><line x1="648.5" y1="162.9" x2="648.5" y2="185.0" stroke="#d4003b"/><rect x="647.0" y="173.6" width="3" height="2.8" fill="#d4003b"/><line x1="651.5" y1="164.3" x2="651.5" y2="180.0" stroke="#000"/><rect x="650.0" y="174.0" width="3" height="1.5" fill="#000"/><line x1="654.5" y1="161.4" x2="654.5" y2="176.0" stroke="#000"/><rect x="653.5" y="163.6" width="2" height="11.4" fill="#fff" stroke="#000" stroke-width="1"/><line x1="657.5" y1="147.9" x2="657.5" y2="165.0" stroke="#000"/><rect x="656.5" y="149.3" width="2" height="15.0" fill="#fff" stroke="#000" stroke-width="1"/><line x1="660.5" y1="127.0" x2="660.5" y2="150.0" stroke="#000"/><rect x="659.5" y="128.6" width="2" height="20.7" fill="#fff" stroke="#000" stroke-width="1"/><line x1="663.5" y1="122.9" x2="663.5" y2="139.3" stroke="#000"/><rect x="662.5" y="123.6" width="2" height="6.4" fill="#fff" stroke="#000" stroke-width="1"/><line x1="666.5" y1="118.4" x2="666.5" y2="132.9" stroke="#000"/><rect x="665.0" y="126.4" width="3" height="2.2" fill="#000"/><line x1="670.5" y1="108.6" x2="670.5" y2="148.6" stroke="#d4003b"/><rect x="669.0" y="121.4" width="3" height="27.2" fill="#d4003b"/><line x1="673.5" y1="137.9" x2="673.5" y2="156.0" stroke="#d4003b"/><rect x="672.0" y="145.7" width="3" height="7.2" fill="#d4003b"/><line x1="676.5" y1="145.7" x2="676.5" y2="167.1" stroke="#d4003b"/><rect x="675.0" y="147.9" width="3" height="15.7" fill="#d4003b"/><line x1="679.5" y1="154.3" x2="679.5" y2="172.1" stroke="#d4003b"/><rect x="678.0" y="155.7" width="3" height="14.3" fill="#d4003b"/><line x1="682.5" y1="152.1" x2="682.5" y2="172.9" stroke="#000"/><rect x="681.5" y="154.3" width="2" height="15.7" fill="#fff" stroke="#000" stroke-width="1"/><line x1="685.5" y1="148.6" x2="685.5" y2="172.1" stroke="#000"/><rect x="684.5" y="151.4" width="2" height="2.9" fill="#fff" stroke="#000" stroke-width="1"/><line x1="689.5" y1="107.9" x2="689.5" y2="152.0" stroke="#000"/><rect x="688.5" y="108.6" width="2" height="38.5" fill="#fff" stroke="#000" stroke-width="1"/><line x1="692.5" y1="92.7" x2="692.5" y2="121.4" stroke="#000"/><rect x="691.5" y="102.7" width="2" height="18.0" fill="#fff" stroke="#000" stroke-width="1"/><line x1="695.5" y1="97.0" x2="695.5" y2="121.4" stroke="#000"/><rect x="694.5" y="104.1" width="2" height="2.9" fill="#fff" stroke="#000" stroke-width="1"/><line x1="698.5" y1="79.9" x2="698.5" y2="112.7" stroke="#000"/><rect x="697.5" y="88.4" width="2" height="15.6" fill="#fff" stroke="#000" stroke-width="1"/><line x1="701.5" y1="74.1" x2="701.5" y2="104.1" stroke="#d4003b"/><rect x="700.0" y="93.4" width="3" height="3.6" fill="#d4003b"/><line x1="704.5" y1="87.7" x2="704.5" y2="107.0" stroke="#d4003b"/><rect x="703.0" y="98.4" width="3" height="2.9" fill="#d4003b"/><line x1="708.5" y1="90.6" x2="708.5" y2="106.3" stroke="#000"/><rect x="707.5" y="94.9" width="2" height="7.1" fill="#fff" stroke="#000" stroke-width="1"/><line x1="711.5" y1="64.9" x2="711.5" y2="105.6" stroke="#000"/><rect x="710.5" y="89.9" width="2" height="10.1" fill="#fff" stroke="#000" stroke-width="1"/><line x1="714.5" y1="77.0" x2="714.5" y2="117.9" stroke="#d4003b"/><rect x="713.0" y="88.0" width="3" height="7.0" fill="#d4003b"/><line x1="717.5" y1="88.4" x2="717.5" y2="117.9" stroke="#d4003b"/><rect x="716.0" y="94.1" width="3" height="12.2" fill="#d4003b"/><line x1="720.5" y1="103.4" x2="720.5" y2="125.0" stroke="#d4003b"/><rect x="719.0" y="104.0" width="3" height="17.4" fill="#d4003b"/><line x1="723.5" y1="99.9" x2="723.5" y2="118.6" stroke="#000"/><rect x="722.5" y="107.9" width="2" height="5.7" fill="#fff" stroke="#000" stroke-width="1"/><line x1="726.5" y1="103.0" x2="726.5" y2="118.0" stroke="#000"/><rect x="725.5" y="107.0" width="2" height="5.0" fill="#fff" stroke="#000" stroke-width="1"/><line x1="730.5" y1="103.4" x2="730.5" y2="124.3" stroke="#d4003b"/><rect x="729.0" y="109.0" width="3" height="6.0" fill="#d4003b"/><line x1="733.5" y1="109.9" x2="733.5" y2="130.7" stroke="#d4003b"/><rect x="732.0" y="110.7" width="3" height="16.4" fill="#d4003b"/><line x1="736.5" y1="120.7" x2="736.5" y2="138.6" stroke="#d4003b"/><rect x="735.0" y="125.0" width="3" height="2.1" fill="#d4003b"/><line x1="739.5" y1="121.4" x2="739.5" y2="135.7" stroke="#000"/><rect x="738.0" y="122.9" width="3" height="3.5" fill="#000"/><line x1="742.5" y1="109.0" x2="742.5" y2="131.4" stroke="#000"/><rect x="741.5" y="112.1" width="2" height="13.6" fill="#fff" stroke="#000" stroke-width="1"/><line x1="745.5" y1="101.0" x2="745.5" y2="118.0" stroke="#000"/><rect x="744.5" y="101.4" width="2" height="16.5" fill="#fff" stroke="#000" stroke-width="1"/><line x1="749.5" y1="100.0" x2="749.5" y2="122.9" stroke="#000"/><rect x="748.0" y="106.0" width="3" height="10.0" fill="#000"/><line x1="752.5" y1="94.3" x2="752.5" y2="118.0" stroke="#d4003b"/><rect x="751.0" y="100.7" width="3" height="10.0" fill="#d4003b"/><line x1="755.5" y1="105.7" x2="755.5" y2="121.4" stroke="#d4003b"/><rect x="754.0" y="106.4" width="3" height="14.3" fill="#d4003b"/><line x1="758.5" y1="118.6" x2="758.5" y2="133.6" stroke="#d4003b"/><rect x="757.0" y="120.0" width="3" height="12.1" fill="#d4003b"/><line x1="761.5" y1="118.6" x2="761.5" y2="133.6" stroke="#000"/><rect x="760.5" y="121.4" width="2" height="8.6" fill="#fff" stroke="#000" stroke-width="1"/><line x1="764.5" y1="106.4" x2="764.5" y2="123.0" stroke="#000"/><rect x="763.5" y="112.1" width="2" height="9.3" fill="#fff" stroke="#000" stroke-width="1"/><line x1="768.5" y1="110.7" x2="768.5" y2="123.0" stroke="#d4003b"/><rect x="767.0" y="114.0" width="3" height="7.0" fill="#d4003b"/><line x1="771.5" y1="116.4" x2="771.5" y2="130.0" stroke="#000"/><rect x="770.0" y="119.0" width="3" height="2.5" fill="#000"/><line x1="774.5" y1="111.4" x2="774.5" y2="135.0" stroke="#d4003b"/><rect x="773.0" y="119.0" width="3" height="11.0" fill="#d4003b"/><line x1="777.5" y1="128.0" x2="777.5" y2="152.1" stroke="#d4003b"/><rect x="776.0" y="130.0" width="3" height="22.1" fill="#d4003b"/><line x1="780.5" y1="151.4" x2="780.5" y2="168.6" stroke="#d4003b"/><rect x="779.0" y="152.1" width="3" height="7.2" fill="#d4003b"/><line x1="783.5" y1="121.4" x2="783.5" y2="164.3" stroke="#000"/><rect x="782.5" y="122.9" width="2" height="31.4" fill="#fff" stroke="#000" stroke-width="1"/><line x1="786.5" y1="95.0" x2="786.5" y2="129.3" stroke="#000"/><rect x="785.5" y="101.4" width="2" height="20.0" fill="#fff" stroke="#000" stroke-width="1"/><line x1="790.5" y1="92.1" x2="790.5" y2="112.1" stroke="#000"/><rect x="789.5" y="97.9" width="2" height="6.4" fill="#fff" stroke="#000" stroke-width="1"/><line x1="793.5" y1="92.1" x2="793.5" y2="103.0" stroke="#000"/><rect x="792.0" y="95.0" width="3" height="5.0" fill="#000"/><line x1="796.5" y1="100.0" x2="796.5" y2="123.6" stroke="#d4003b"/><rect x="795.0" y="100.7" width="3" height="20.3" fill="#d4003b"/><line x1="799.5" y1="104.0" x2="799.5" y2="125.0" stroke="#000"/><rect x="798.5" y="104.7" width="2" height="17.2" fill="#fff" stroke="#000" stroke-width="1"/><line x1="802.5" y1="95.7" x2="802.5" y2="112.9" stroke="#000"/><rect x="801.5" y="99.3" width="2" height="7.1" fill="#fff" stroke="#000" stroke-width="1"/><line x1="805.5" y1="62.5" x2="805.5" y2="98.0" stroke="#000"/><rect x="804.5" y="64.3" width="2" height="31.7" fill="#fff" stroke="#000" stroke-width="1"/><line x1="809.5" y1="39.3" x2="809.5" y2="95.0" stroke="#d4003b"/><rect x="808.0" y="64.0" width="3" height="27.0" fill="#d4003b"/><line x1="812.5" y1="72.9" x2="812.5" y2="104.3" stroke="#000"/><rect x="811.5" y="73.6" width="2" height="16.4" fill="#fff" stroke="#000" stroke-width="1"/><line x1="815.5" y1="67.1" x2="815.5" y2="88.0" stroke="#000"/><rect x="814.5" y="71.4" width="2" height="14.3" fill="#fff" stroke="#000" stroke-width="1"/><line x1="818.5" y1="60.7" x2="818.5" y2="80.0" stroke="#000"/><rect x="817.0" y="71.0" width="3" height="2.0" fill="#000"/><line x1="821.5" y1="64.3" x2="821.5" y2="87.5" stroke="#d4003b"/><rect x="820.0" y="70.5" width="3" height="9.7" fill="#d4003b"/><line x1="824.5" y1="72.8" x2="824.5" y2="92.1" stroke="#000"/><rect x="823.0" y="77.0" width="3" height="3.0" fill="#000"/><line x1="828.5" y1="75.0" x2="828.5" y2="97.5" stroke="#d4003b"/><rect x="827.0" y="78.0" width="3" height="12.0" fill="#d4003b"/><line x1="831.5" y1="83.8" x2="831.5" y2="97.1" stroke="#d4003b"/><rect x="830.0" y="85.5" width="3" height="6.7" fill="#d4003b"/><line x1="834.5" y1="66.8" x2="834.5" y2="92.7" stroke="#000"/><rect x="833.5" y="76.6" width="2" height="15.4" fill="#fff" stroke="#000" stroke-width="1"/><line x1="837.5" y1="75.0" x2="837.5" y2="87.2" stroke="#d4003b"/><rect x="836.0" y="76.0" width="3" height="7.8" fill="#d4003b"/><line x1="840.5" y1="80.5" x2="840.5" y2="100.3" stroke="#d4003b"/><rect x="839.0" y="84.0" width="3" height="5.5" fill="#d4003b"/></g><line x1="14.5" y1="99" x2="878.5" y2="99" stroke="#5c9f3e" stroke-width="2"/><line x1="14.5" y1="157.3" x2="878.5" y2="157.3" stroke="#3f86c8" stroke-width="2"/><line x1="629.3" y1="245.6" x2="878.5" y2="114.5" stroke="#62a843" stroke-width="2.2"/><rect x="14.5" y="31.5" width="864.0" height="361.0" fill="none" stroke="#c0c0c0" stroke-width="1"/><text x="882.8" y="375.0" class="ax" textLength="28" lengthAdjust="spacingAndGlyphs">1300</text><text x="882.8" y="355.5" class="ax" textLength="28" lengthAdjust="spacingAndGlyphs">1350</text><text x="882.8" y="336.0" class="ax" textLength="28" lengthAdjust="spacingAndGlyphs">1400</text><text x="882.8" y="316.6" class="ax" textLength="28" lengthAdjust="spacingAndGlyphs">1450</text><text x="882.8" y="297.1" class="ax" textLength="28" lengthAdjust="spacingAndGlyphs">1500</text><text x="882.8" y="277.6" class="ax" textLength="28" lengthAdjust="spacingAndGlyphs">1550</text><text x="882.8" y="258.1" class="ax" textLength="28" lengthAdjust="spacingAndGlyphs">1600</text><text x="882.8" y="238.6" class="ax" textLength="28" lengthAdjust="spacingAndGlyphs">1650</text><text x="882.8" y="219.1" class="ax" textLength="28" lengthAdjust="spacingAndGlyphs">1700</text><text x="882.8" y="199.7" class="ax" textLength="28" lengthAdjust="spacingAndGlyphs">1750</text><text x="882.8" y="180.2" class="ax" textLength="28" lengthAdjust="spacingAndGlyphs">1800</text><text x="882.8" y="160.7" class="ax" textLength="28" lengthAdjust="spacingAndGlyphs">1850</text><text x="882.8" y="141.2" class="ax" textLength="28" lengthAdjust="spacingAndGlyphs">1900</text><text x="882.8" y="121.7" class="ax" textLength="28" lengthAdjust="spacingAndGlyphs">1950</text><text x="882.8" y="102.2" class="ax" textLength="28" lengthAdjust="spacingAndGlyphs">2000</text><text x="882.8" y="82.8" class="ax" textLength="28" lengthAdjust="spacingAndGlyphs">2050</text><text x="882.8" y="63.3" class="ax" textLength="28" lengthAdjust="spacingAndGlyphs">2100</text><text x="882.8" y="43.8" class="ax" textLength="28" lengthAdjust="spacingAndGlyphs">2150</text><text x="26.6" y="404.7" class="mo" textLength="8.58" lengthAdjust="spacingAndGlyphs">M</text><text x="39.2" y="404.7" class="mo" textLength="6.87" lengthAdjust="spacingAndGlyphs">A</text><text x="55.0" y="404.7" class="mo" textLength="8.58" lengthAdjust="spacingAndGlyphs">M</text><text x="67.6" y="404.7" class="mo" textLength="5.15" lengthAdjust="spacingAndGlyphs">J</text><text x="80.3" y="404.7" class="mo" textLength="5.15" lengthAdjust="spacingAndGlyphs">J</text><text x="96.0" y="404.7" class="mo" textLength="6.87" lengthAdjust="spacingAndGlyphs">A</text><text x="108.7" y="404.7" class="mo" textLength="6.87" lengthAdjust="spacingAndGlyphs">S</text><text x="124.5" y="404.7" class="mo" textLength="8.01" lengthAdjust="spacingAndGlyphs">O</text><text x="137.1" y="404.7" class="mo" textLength="7.43" lengthAdjust="spacingAndGlyphs">N</text><text x="149.7" y="404.7" class="mo" textLength="7.43" lengthAdjust="spacingAndGlyphs">D</text><text x="163.5" y="405" class="yr" textLength="13.5" lengthAdjust="spacingAndGlyphs">20</text><text x="178.2" y="404.7" class="mo" textLength="6.29" lengthAdjust="spacingAndGlyphs">F</text><text x="190.8" y="404.7" class="mo" textLength="8.58" lengthAdjust="spacingAndGlyphs">M</text><text x="206.6" y="404.7" class="mo" textLength="6.87" lengthAdjust="spacingAndGlyphs">A</text><text x="219.2" y="404.7" class="mo" textLength="8.58" lengthAdjust="spacingAndGlyphs">M</text><text x="231.8" y="404.7" class="mo" textLength="5.15" lengthAdjust="spacingAndGlyphs">J</text><text x="247.6" y="404.7" class="mo" textLength="5.15" lengthAdjust="spacingAndGlyphs">J</text><text x="260.3" y="404.7" class="mo" textLength="6.87" lengthAdjust="spacingAndGlyphs">A</text><text x="276.1" y="404.7" class="mo" textLength="6.87" lengthAdjust="spacingAndGlyphs">S</text><text x="288.7" y="404.7" class="mo" textLength="8.01" lengthAdjust="spacingAndGlyphs">O</text><text x="301.3" y="404.7" class="mo" textLength="7.43" lengthAdjust="spacingAndGlyphs">N</text><text x="317.1" y="404.7" class="mo" textLength="7.43" lengthAdjust="spacingAndGlyphs">D</text><text x="327.7" y="405" class="yr" textLength="13.5" lengthAdjust="spacingAndGlyphs">21</text><text x="342.4" y="404.7" class="mo" textLength="6.29" lengthAdjust="spacingAndGlyphs">F</text><text x="355.0" y="404.7" class="mo" textLength="8.58" lengthAdjust="spacingAndGlyphs">M</text><text x="370.8" y="404.7" class="mo" textLength="6.87" lengthAdjust="spacingAndGlyphs">A</text><text x="383.4" y="404.7" class="mo" textLength="8.58" lengthAdjust="spacingAndGlyphs">M</text><text x="399.2" y="404.7" class="mo" textLength="5.15" lengthAdjust="spacingAndGlyphs">J</text><text x="411.8" y="404.7" class="mo" textLength="5.15" lengthAdjust="spacingAndGlyphs">J</text><text x="424.5" y="404.7" class="mo" textLength="6.87" lengthAdjust="spacingAndGlyphs">A</text><text x="440.3" y="404.7" class="mo" textLength="6.87" lengthAdjust="spacingAndGlyphs">S</text><text x="452.9" y="404.7" class="mo" textLength="8.01" lengthAdjust="spacingAndGlyphs">O</text><text x="465.5" y="404.7" class="mo" textLength="7.43" lengthAdjust="spacingAndGlyphs">N</text><text x="481.3" y="404.7" class="mo" textLength="7.43" lengthAdjust="spacingAndGlyphs">D</text><text x="492.0" y="405" class="yr" textLength="13.5" lengthAdjust="spacingAndGlyphs">22</text><text x="509.7" y="404.7" class="mo" textLength="6.29" lengthAdjust="spacingAndGlyphs">F</text><text x="522.4" y="404.7" class="mo" textLength="8.58" lengthAdjust="spacingAndGlyphs">M</text><text x="535.0" y="404.7" class="mo" textLength="6.87" lengthAdjust="spacingAndGlyphs">A</text><text x="547.6" y="404.7" class="mo" textLength="8.58" lengthAdjust="spacingAndGlyphs">M</text><text x="563.4" y="404.7" class="mo" textLength="5.15" lengthAdjust="spacingAndGlyphs">J</text><text x="576.1" y="404.7" class="mo" textLength="5.15" lengthAdjust="spacingAndGlyphs">J</text><text x="588.7" y="404.7" class="mo" textLength="6.87" lengthAdjust="spacingAndGlyphs">A</text><text x="604.5" y="404.7" class="mo" textLength="6.87" lengthAdjust="spacingAndGlyphs">S</text><text x="617.1" y="404.7" class="mo" textLength="8.01" lengthAdjust="spacingAndGlyphs">O</text><text x="632.9" y="404.7" class="mo" textLength="7.43" lengthAdjust="spacingAndGlyphs">N</text><text x="645.5" y="404.7" class="mo" textLength="7.43" lengthAdjust="spacingAndGlyphs">D</text><text x="656.2" y="405" class="yr" textLength="13.5" lengthAdjust="spacingAndGlyphs">23</text><text x="674.0" y="404.7" class="mo" textLength="6.29" lengthAdjust="spacingAndGlyphs">F</text><text x="686.6" y="404.7" class="mo" textLength="8.58" lengthAdjust="spacingAndGlyphs">M</text><text x="699.2" y="404.7" class="mo" textLength="6.87" lengthAdjust="spacingAndGlyphs">A</text><text x="711.9" y="404.7" class="mo" textLength="8.58" lengthAdjust="spacingAndGlyphs">M</text><text x="727.6" y="404.7" class="mo" textLength="5.15" lengthAdjust="spacingAndGlyphs">J</text><text x="740.3" y="404.7" class="mo" textLength="5.15" lengthAdjust="spacingAndGlyphs">J</text><text x="756.1" y="404.7" class="mo" textLength="6.87" lengthAdjust="spacingAndGlyphs">A</text><text x="768.7" y="404.7" class="mo" textLength="6.87" lengthAdjust="spacingAndGlyphs">S</text><text x="781.3" y="404.7" class="mo" textLength="8.01" lengthAdjust="spacingAndGlyphs">O</text><text x="797.1" y="404.7" class="mo" textLength="7.43" lengthAdjust="spacingAndGlyphs">N</text><text x="809.8" y="404.7" class="mo" textLength="7.43" lengthAdjust="spacingAndGlyphs">D</text><text x="820.4" y="405" class="yr" textLength="13.5" lengthAdjust="spacingAndGlyphs">24</text><text x="838.2" y="404.7" class="mo" textLength="6.29" lengthAdjust="spacingAndGlyphs">F</text><text x="850.8" y="404.7" class="mo" textLength="8.58" lengthAdjust="spacingAndGlyphs">M</text><text x="863.4" y="404.7" class="mo" textLength="6.87" lengthAdjust="spacingAndGlyphs">A</text>
<rect x="15" y="32" width="189.5" height="13.5" fill="#fff"/>
<path d="M18.5 35 L18.5 43 M22.5 34.5 L22.5 44 M26.8 34.5 L26.8 43.5" stroke="#111" stroke-width="1"/>
<rect x="20.5" y="36.5" width="4" height="6" fill="#111"/><rect x="25.3" y="36.3" width="3" height="6" fill="none" stroke="#111" stroke-width="1.1"/><path d="M17.5 38 L19.5 40" stroke="#111" stroke-width="1"/>
<text x="14.9" y="13.7" class="h1" textLength="51" lengthAdjust="spacingAndGlyphs">$GOLD</text><text x="71.9" y="12.5" class="h2" textLength="193.1" lengthAdjust="spacingAndGlyphs">Gold - Continuous Contract (EOD)</text><text x="271.8" y="12.5" class="h3" textLength="25.6" lengthAdjust="spacingAndGlyphs">CME</text><text x="15.0" y="28.0" class="d1" textLength="71" lengthAdjust="spacingAndGlyphs">16-Feb-2024</text><text x="290.2" y="27.7" class="b" textLength="33.5" lengthAdjust="spacingAndGlyphs">Open</text><text x="328.4" y="27.7" class="n" textLength="45.9" lengthAdjust="spacingAndGlyphs">2038.20</text><text x="382.2" y="27.7" class="b" textLength="28.3" lengthAdjust="spacingAndGlyphs">High</text><text x="415.0" y="27.7" class="n" textLength="46" lengthAdjust="spacingAndGlyphs">2047.30</text><text x="468.7" y="27.7" class="b" textLength="27.5" lengthAdjust="spacingAndGlyphs">Low</text><text x="502.5" y="27.7" class="n" textLength="44.4" lengthAdjust="spacingAndGlyphs">1996.40</text><text x="555.6" y="27.7" class="b" textLength="36.9" lengthAdjust="spacingAndGlyphs">Close</text><text x="597.3" y="27.7" class="n" textLength="45.8" lengthAdjust="spacingAndGlyphs">2024.10</text><text x="651.2" y="27.7" class="b" textLength="50.7" lengthAdjust="spacingAndGlyphs">Volume</text><text x="706.2" y="27.7" class="n" textLength="35.7" lengthAdjust="spacingAndGlyphs">82.9M</text><text x="750.2" y="27.7" class="b" textLength="24.8" lengthAdjust="spacingAndGlyphs">Chg</text><text x="779.4" y="27.7" class="n" textLength="86.9" lengthAdjust="spacingAndGlyphs">-14.60 (-0.72%)</text><text x="771.0" y="12.6" class="sc2" textLength="9.3" lengthAdjust="spacingAndGlyphs">&#169;</text><text x="783.0" y="12.2" class="sc" textLength="95.6" lengthAdjust="spacingAndGlyphs">StockCharts.com</text><text x="33.1" y="44.2" class="mono" textLength="170" lengthAdjust="spacingAndGlyphs">$GOLD (Weekly) 2024.10</text>
<path d="M876 88.6 L881.5 82.5 L930 82.5 L930 95.5 L881.5 95.5 Z" fill="#fff" stroke="#333" stroke-width="1.2"/>
<text x="881.8" y="93.6" style="font-size:12.4px;font-weight:bold;fill:#111" textLength="44" lengthAdjust="spacingAndGlyphs">2024.10</text>
<circle cx="928" cy="0" r="14" fill="#333"/>
<circle cx="928" cy="0" r="11.3" fill="none" stroke="#bbb" stroke-width="1.4"/>
<path d="M870.3 22.2 L878.2 22.2 L874.25 26.4 Z" fill="#a01030"/>
</svg>
</body></html>
